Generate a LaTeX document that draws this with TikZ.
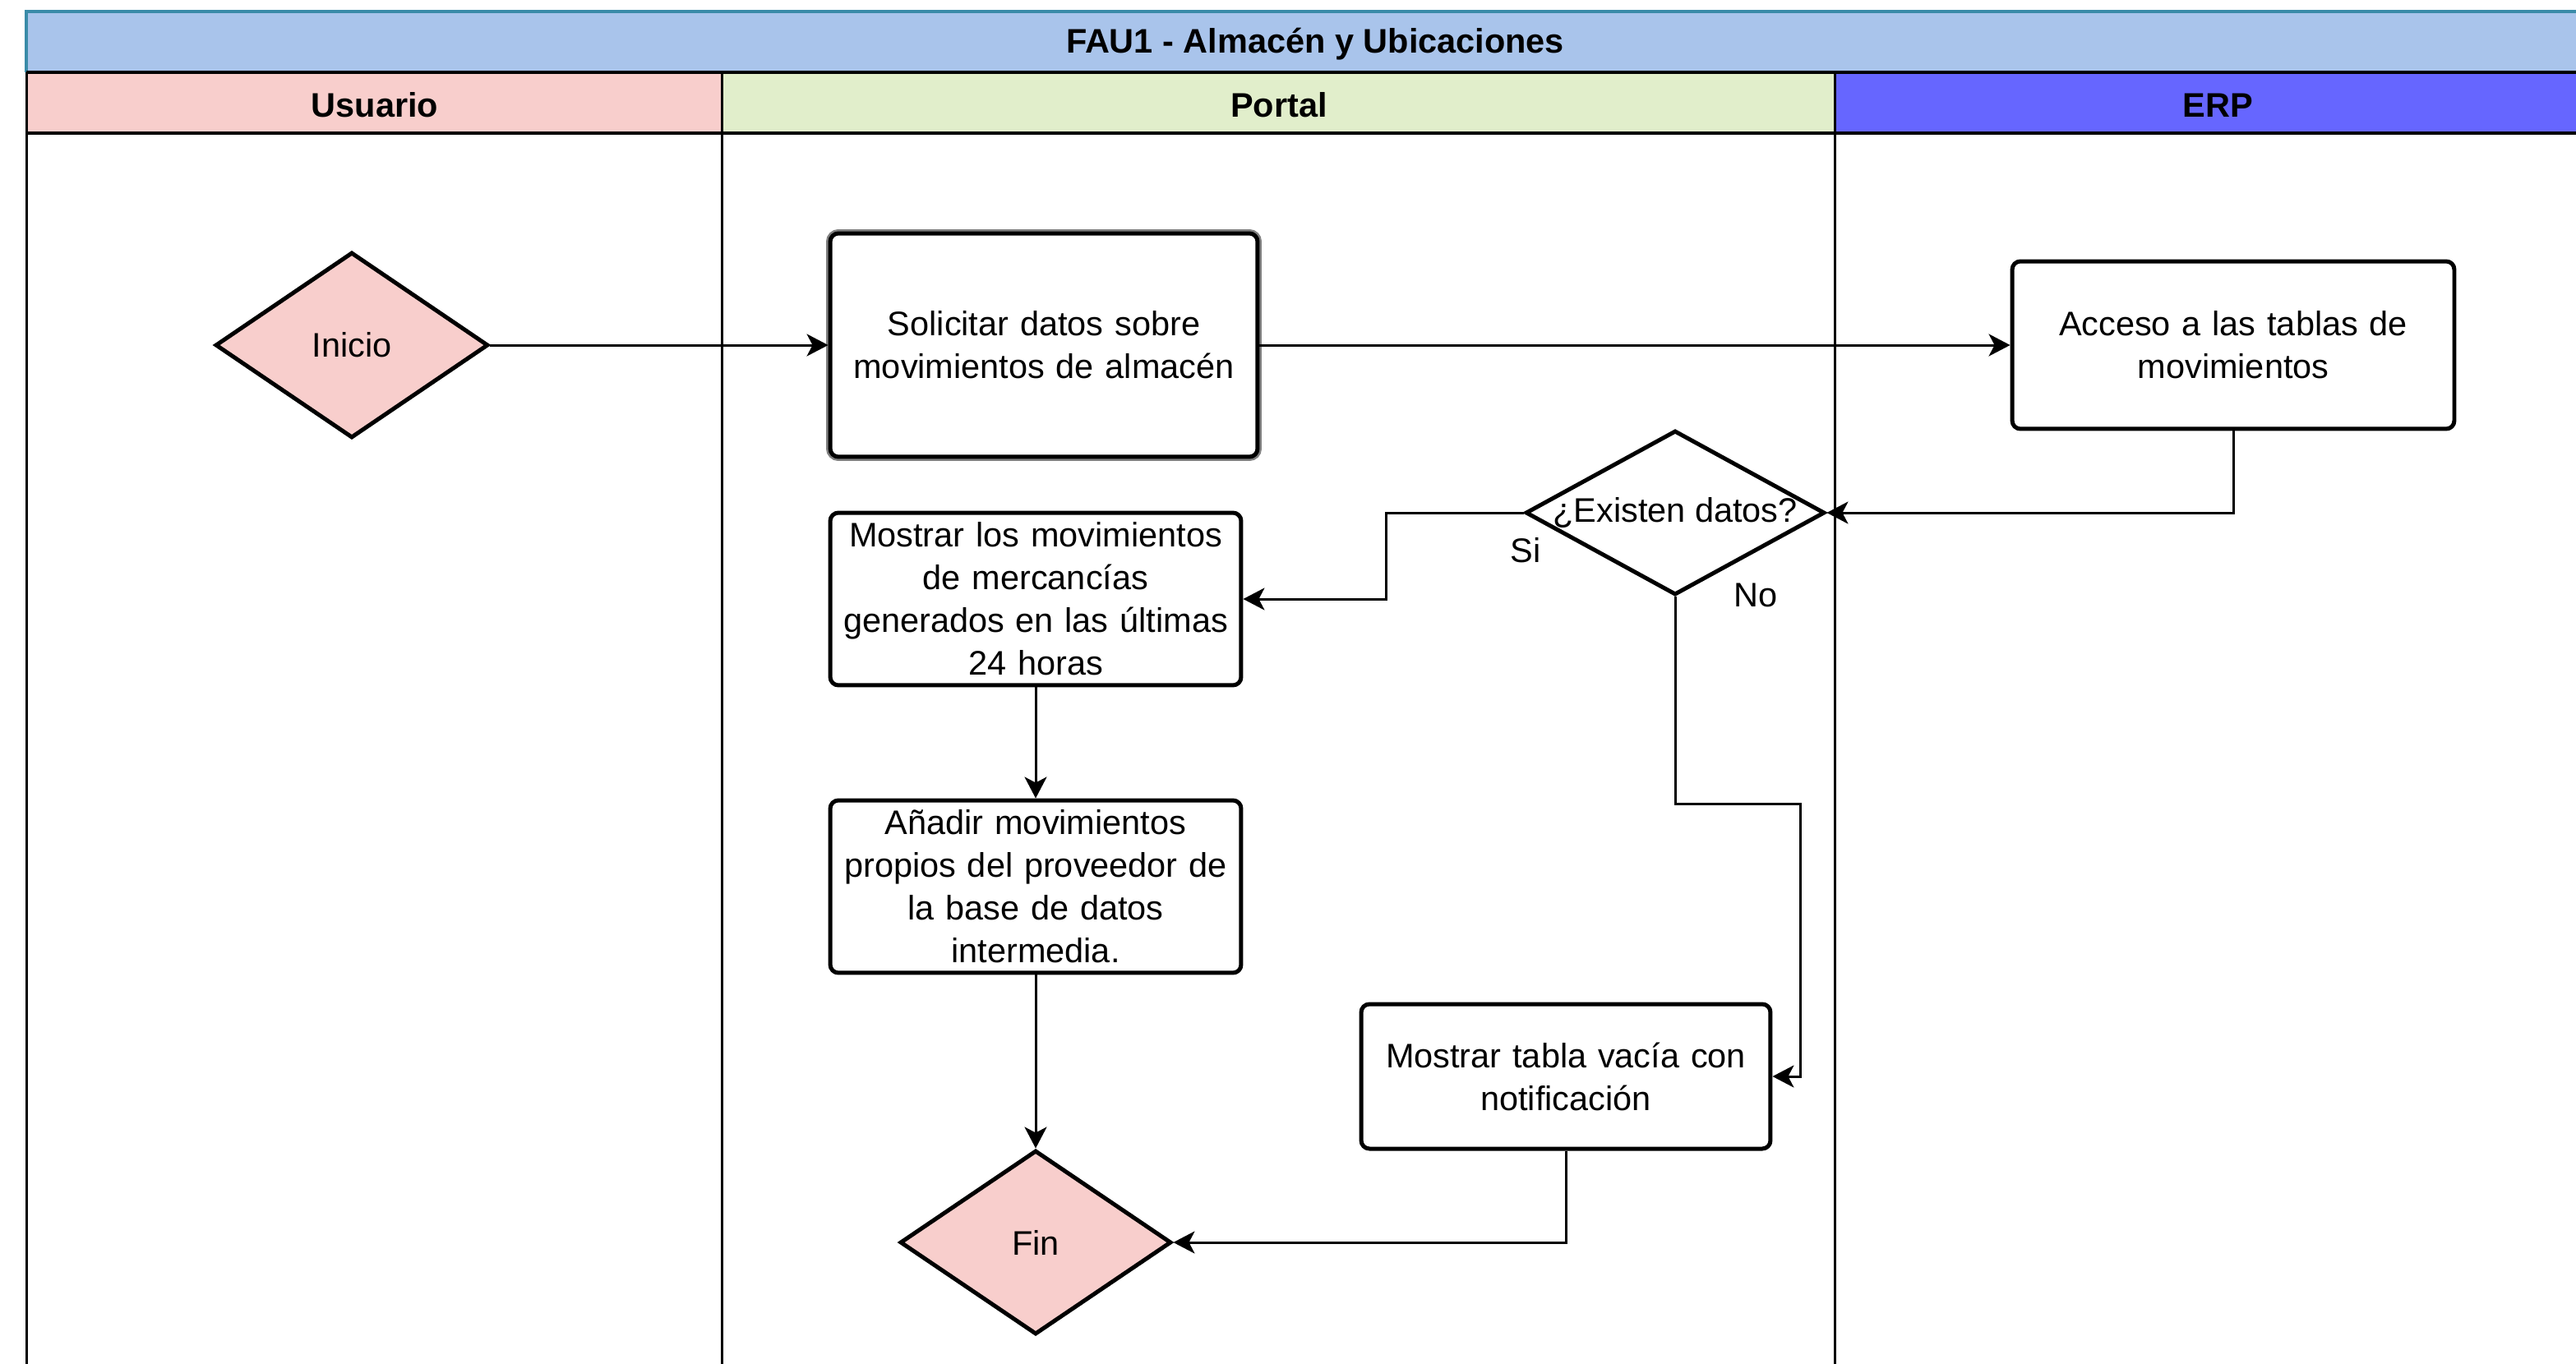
\documentclass[tikz,border=0pt]{standalone}
\usepackage{fontspec}
\setmainfont{Liberation Sans}
\usetikzlibrary{shapes.geometric,arrows.meta}
\definecolor{titlefill}{HTML}{A9C4EB}
\definecolor{titleline}{HTML}{3A8BA8}
\definecolor{userfill}{HTML}{F8CECC}
\definecolor{portalfill}{HTML}{E1EECB}
\definecolor{erpfill}{HTML}{6666FF}
\definecolor{termfill}{HTML}{F8CECC}
\tikzset{
  txt/.style={font=\fontsize{11.8}{14.8}\selectfont, text=black},
  hdr/.style={font=\bfseries\fontsize{11.8}{14.8}\selectfont, text=black},
  procbox/.style={txt, draw=black, line width=0.05cm, rounded corners=0.1cm,
    fill=white, inner sep=0pt, align=center},
  term/.style={txt, diamond, draw=black, line width=0.05cm, fill=termfill,
    inner sep=0pt, aspect=1},
  decis/.style={txt, diamond, draw=black, line width=0.05cm, fill=white,
    inner sep=0pt, aspect=1},
  arr/.style={draw=black, line width=0.03cm,
    -{Stealth[length=0.26cm,width=0.27cm,inset=0.07cm]}},
  lane/.style={draw=black, line width=0.03cm},
  hline/.style={draw=black, line width=0.04cm},
}
\begin{document}
\begin{tikzpicture}[x=0.02cm,y=-0.02cm]
\useasboundingbox (0,0) rectangle (1567,829.5);
\begin{scope}
\clip (0,0) rectangle (1567,829.5);
% title bar
\fill[titlefill] (16,7) rectangle (1570,44);
\draw[titleline, line width=0.04cm] (16,44) -- (16,7) -- (1570,7);
\node[hdr] (title) at (800,27) {FAU1 - Almacén y Ubicaciones};
% header row
\fill[userfill] (16,44) rectangle (439,81);
\fill[portalfill] (439,44) rectangle (1116,81);
\fill[erpfill] (1116,44) rectangle (1570,81);
\draw[hline] (16,44) -- (1570,44);
\draw[hline] (16,81) -- (1570,81);
\node[hdr] (husr) at (228,64) {Usuario};
\node[hdr] (hpor) at (778,64) {Portal};
\node[hdr] (herp) at (1349,64) {ERP};
% lanes
\draw[lane] (16,44) -- (16,835);
\draw[lane] (439,44) -- (439,835);
\draw[lane] (1116,44) -- (1116,835);
\end{scope}

% nodes
\node[term, minimum width=3.32cm, minimum height=2.26cm] (ini) at (214,210) {Inicio};
\node[procbox, minimum width=5.2cm, minimum height=2.72cm, text width=5.0cm,
  preaction={draw=black!50, line width=0.1cm, rounded corners=0.1cm}] (sol) at (635,210)
  {Solicitar datos sobre\\movimientos de almacén};
\node[procbox, minimum width=5.38cm, minimum height=2.04cm, text width=5.2cm] (acc) at (1358.5,210)
  {Acceso a las tablas de\\movimientos};
\node[decis, minimum width=3.64cm, minimum height=2.0cm] (exi) at (1019,312)
  {\makebox[0pt]{¿Existen datos?}};
\node[procbox, minimum width=5.0cm, minimum height=2.1cm, text width=5.0cm] (mov) at (630,364.5)
  {Mostrar los movimientos\\de mercancías\\generados en las últimas\\24 horas};
\node[procbox, minimum width=5.0cm, minimum height=2.1cm, text width=5.0cm] (aad) at (630,539.5)
  {Añadir movimientos\\propios del proveedor de\\la base de datos\\intermedia.};
\node[procbox, minimum width=4.98cm, minimum height=1.76cm, text width=4.8cm] (tab) at (952.5,655)
  {Mostrar tabla vacía con\\notificación};
\node[term, minimum width=3.3cm, minimum height=2.24cm] (fin) at (630,756) {Fin};

% labels
\node[txt] (lsi) at (928,335) {Si};
\node[txt] (lno) at (1068,362) {No};

% bend points
\coordinate (b1) at (843,312);
\coordinate (b2) at (1019,489);
\coordinate (b3) at (1095,489);

% connectors
\draw[arr] (ini.east) -- (sol.west);
\draw[arr] (sol.east) -- (acc.west);
\draw[arr] (acc.south) |- (exi.east);
\draw[arr] (exi.west) -- (b1) |- (mov.east);
\draw[arr] (exi.south) -- (b2) -- (b3) |- (tab.east);
\draw[arr] (mov.south) -- (aad.north);
\draw[arr] (aad.south) -- (fin.north);
\draw[arr] (tab.south) |- (fin.east);
\end{tikzpicture}
\end{document}
